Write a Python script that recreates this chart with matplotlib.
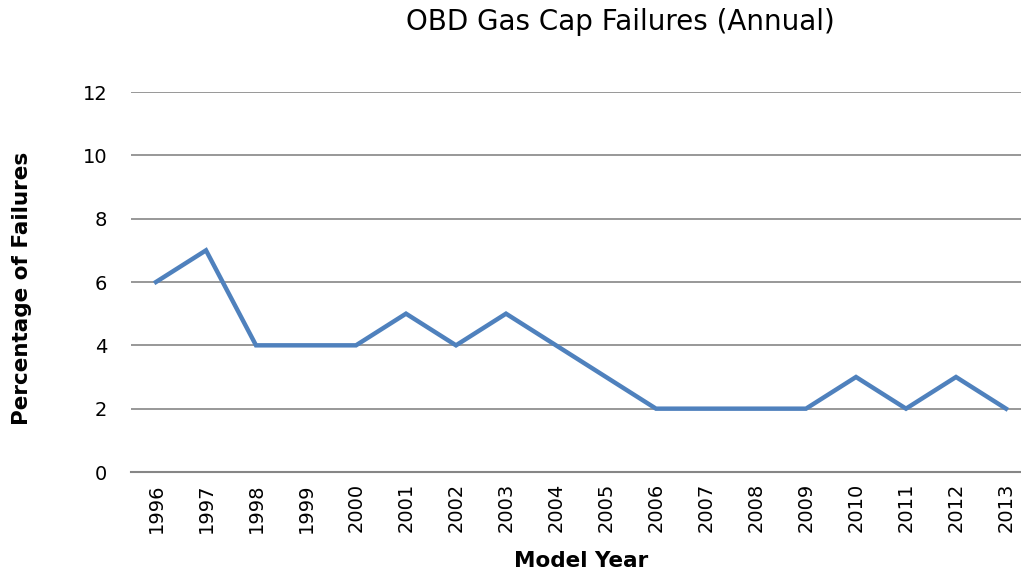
import matplotlib
matplotlib.use("Agg")
import matplotlib.pyplot as plt

years = ["1996", "1997", "1998", "1999", "2000", "2001", "2002", "2003", "2004",
         "2005", "2006", "2007", "2008", "2009", "2010", "2011", "2012", "2013"]
failures = [6, 7, 4, 4, 4, 5, 4, 5, 4, 3, 2, 2, 2, 2, 3, 2, 3, 2]
yticks = [0, 2, 4, 6, 8, 10, 12]

plt.rcParams['font.family'] = ['DejaVu Sans']
fig = plt.figure(figsize=(10.21, 5.75), dpi=100)
ax = fig.add_axes([131/1021, 103/575, 900/1021, 380/575])

x = list(range(len(years)))
ax.plot(x, failures, color="#4F81BD", linewidth=3.2, solid_joinstyle="miter", zorder=3)

ax.set_xlim(-0.5, len(years) - 0.5)
ax.set_ylim(0, 12)
ax.set_yticks(yticks)
ax.set_yticklabels([str(v) for v in yticks], fontsize=14)
ax.set_xticks(x)
ax.set_xticklabels(years, rotation=90, fontsize=14)
ax.tick_params(axis="both", length=0)
ax.tick_params(axis="y", pad=17)
ax.tick_params(axis="x", pad=8)
for s in ax.spines.values():
    s.set_visible(False)
ax.grid(axis="y", color="#868686", linewidth=1.2)
ax.axhline(0, color="#868686", linewidth=1.5, clip_on=False)
ax.set_axisbelow(True)

ax.set_xlabel("Model Year", fontsize=15.5, fontweight="bold", labelpad=13)
fig.text(22/1021, (575 - 288)/575, "Percentage of Failures", fontsize=15.5,
         fontweight="bold", rotation=90, ha="center", va="center")
fig.text(620/1021, 1 - 22/575, "OBD Gas Cap Failures (Annual)", fontsize=20,
         ha="center", va="center")

fig.savefig("out.png", dpi=100)
